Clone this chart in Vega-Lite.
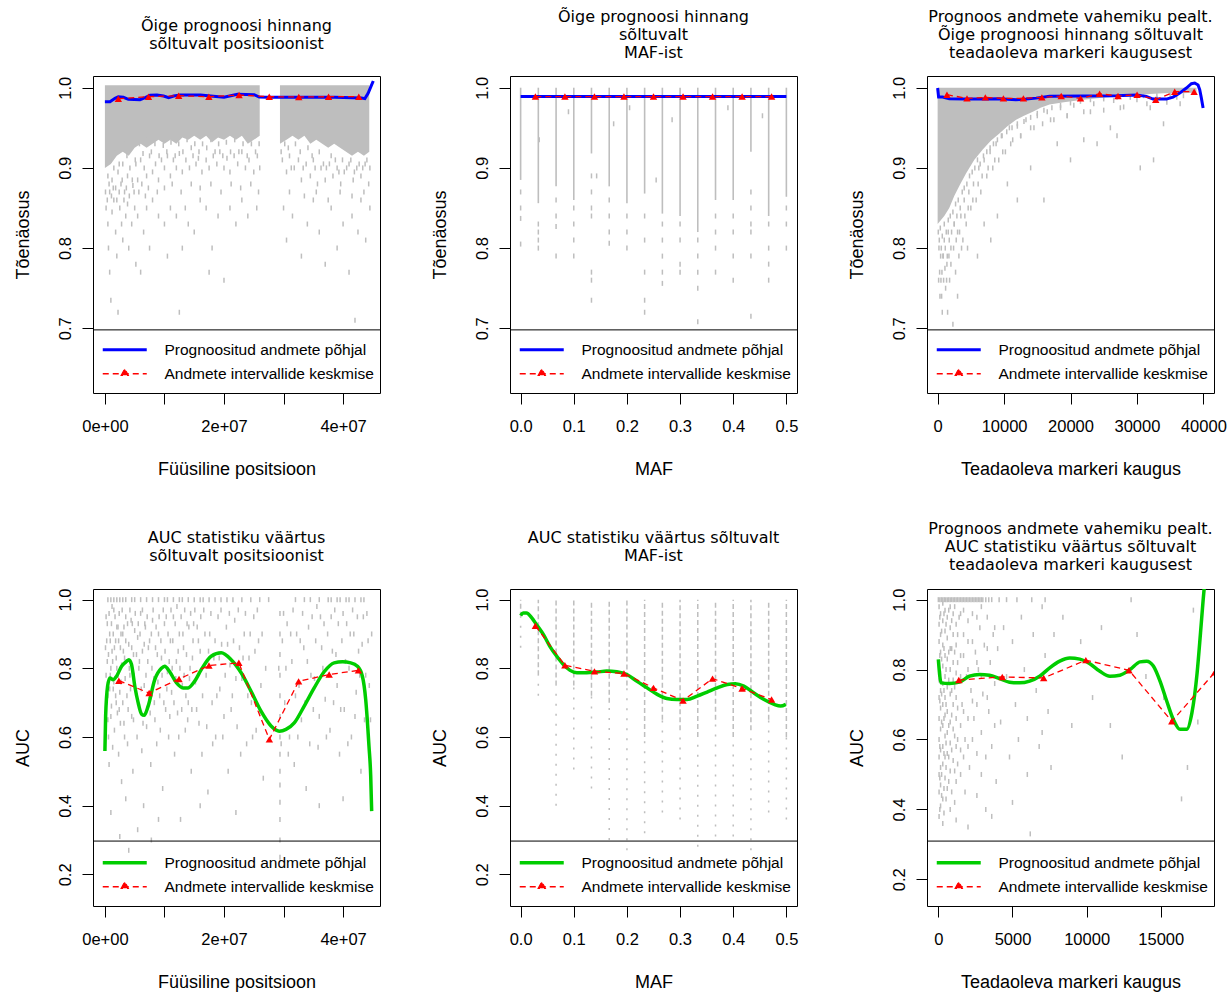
{
  "$schema": "https://vega.github.io/schema/vega-lite/v6.json",
  "background": "white",
  "padding": {"left": 13, "top": 8, "right": 5, "bottom": 2},
  "bounds": "flush",
  "columns": 3,
  "spacing": {"column": 130, "row": 196},
  "resolve": {"scale": {"color": "independent"}, "legend": {"color": "independent"}},
  "config": {
    "view": {"stroke": "black", "strokeWidth": 1},
    "axis": {"domain": false, "grid": false, "ticks": true, "tickColor": "black", "tickSize": 11, "tickWidth": 1,
             "labelFont": "Liberation Sans", "labelFontSize": 16.5, "labelColor": "black",
             "titleFont": "Liberation Sans", "titleFontSize": 18, "titleFontWeight": "normal", "titleColor": "black",
             "labelOverlap": false, "labelBound": false, "labelFlush": false},
    "axisX": {"labelPadding": 14, "labelAngle": 0, "titleY": 81, "titleBaseline": "alphabetic"},
    "axisY": {"labelPadding": 12, "labelAngle": -90, "labelAlign": "center", "labelBaseline": "alphabetic",
              "titleX": -65, "titleAngle": -90, "titleBaseline": "alphabetic"},
    "title": {"font": "DejaVu Sans", "fontSize": 16, "fontWeight": "normal", "color": "black", "lineHeight": 18, "frame": "group", "anchor": "middle"},
    "legend": {"orient": "none", "legendX": 7, "legendY": 266, "padding": 0, "labelFont": "Liberation Sans", "labelFontSize": 15.5,
               "labelColor": "black", "labelOffset": 49, "rowPadding": 7, "symbolSize": 100, "labelLimit": 400}
  },
  "datasets": {
    "p1band": [
      {"x":0,"y":0.90,"seg":"a"},{"x":0.1e7,"y":0.905,"seg":"a"},{"x":0.2e7,"y":0.915,"seg":"a"},{"x":0.3e7,"y":0.92,"seg":"a"},{"x":0.4e7,"y":0.915,"seg":"a"},{"x":0.5e7,"y":0.925,"seg":"a"},{"x":0.6e7,"y":0.93,"seg":"a"},{"x":0.7e7,"y":0.925,"seg":"a"},{"x":0.8e7,"y":0.93,"seg":"a"},{"x":0.9e7,"y":0.935,"seg":"a"},{"x":1.0e7,"y":0.93,"seg":"a"},{"x":1.1e7,"y":0.935,"seg":"a"},{"x":1.2e7,"y":0.93,"seg":"a"},{"x":1.3e7,"y":0.938,"seg":"a"},{"x":1.4e7,"y":0.935,"seg":"a"},{"x":1.5e7,"y":0.94,"seg":"a"},{"x":1.6e7,"y":0.935,"seg":"a"},{"x":1.7e7,"y":0.94,"seg":"a"},{"x":1.8e7,"y":0.932,"seg":"a"},{"x":1.9e7,"y":0.938,"seg":"a"},{"x":2.0e7,"y":0.935,"seg":"a"},{"x":2.1e7,"y":0.94,"seg":"a"},{"x":2.2e7,"y":0.935,"seg":"a"},{"x":2.3e7,"y":0.94,"seg":"a"},{"x":2.4e7,"y":0.93,"seg":"a"},{"x":2.5e7,"y":0.935,"seg":"a"},{"x":2.6e7,"y":0.94,"seg":"a"},
      {"x":2.94e7,"y":0.93,"seg":"b"},{"x":3.05e7,"y":0.935,"seg":"b"},{"x":3.15e7,"y":0.94,"seg":"b"},{"x":3.25e7,"y":0.935,"seg":"b"},{"x":3.35e7,"y":0.94,"seg":"b"},{"x":3.45e7,"y":0.93,"seg":"b"},{"x":3.55e7,"y":0.935,"seg":"b"},{"x":3.65e7,"y":0.93,"seg":"b"},{"x":3.75e7,"y":0.925,"seg":"b"},{"x":3.85e7,"y":0.93,"seg":"b"},{"x":3.95e7,"y":0.925,"seg":"b"},{"x":4.05e7,"y":0.92,"seg":"b"},{"x":4.15e7,"y":0.915,"seg":"b"},{"x":4.25e7,"y":0.92,"seg":"b"},{"x":4.35e7,"y":0.915,"seg":"b"},{"x":4.44e7,"y":0.92,"seg":"b"}
    ],
    "p1pts": [
      {"x":0.05e7,"y":0.89},{"x":0.08e7,"y":0.87},{"x":0.12e7,"y":0.885},{"x":0.15e7,"y":0.9},{"x":0.18e7,"y":0.875},{"x":0.22e7,"y":0.895},{"x":0.27e7,"y":0.88},{"x":0.3e7,"y":0.905},{"x":0.33e7,"y":0.87},{"x":0.38e7,"y":0.89},{"x":0.42e7,"y":0.9},{"x":0.47e7,"y":0.878},{"x":0.52e7,"y":0.905},{"x":0.55e7,"y":0.885},{"x":0.6e7,"y":0.91},{"x":0.66e7,"y":0.9},{"x":0.7e7,"y":0.89},{"x":0.75e7,"y":0.915},{"x":0.8e7,"y":0.895},{"x":0.85e7,"y":0.905},{"x":0.9e7,"y":0.885},{"x":0.95e7,"y":0.91},{"x":1.0e7,"y":0.9},{"x":1.05e7,"y":0.915},{"x":1.1e7,"y":0.89},{"x":1.15e7,"y":0.91},{"x":1.2e7,"y":0.9},{"x":1.25e7,"y":0.918},{"x":1.3e7,"y":0.895},{"x":1.36e7,"y":0.91},{"x":1.42e7,"y":0.9},{"x":1.48e7,"y":0.915},{"x":1.53e7,"y":0.905},{"x":1.58e7,"y":0.92},{"x":1.63e7,"y":0.895},{"x":1.7e7,"y":0.91},{"x":1.75e7,"y":0.9},{"x":1.82e7,"y":0.915},{"x":1.88e7,"y":0.905},{"x":1.93e7,"y":0.92},{"x":2.0e7,"y":0.9},{"x":2.05e7,"y":0.912},{"x":2.1e7,"y":0.895},{"x":2.17e7,"y":0.915},{"x":2.23e7,"y":0.905},{"x":2.3e7,"y":0.92},{"x":2.36e7,"y":0.9},{"x":2.42e7,"y":0.91},{"x":2.5e7,"y":0.895},{"x":2.56e7,"y":0.915},{"x":2.6e7,"y":0.9},
      {"x":2.98e7,"y":0.91},{"x":3.05e7,"y":0.895},{"x":3.1e7,"y":0.915},{"x":3.18e7,"y":0.9},{"x":3.25e7,"y":0.91},{"x":3.3e7,"y":0.885},{"x":3.38e7,"y":0.905},{"x":3.45e7,"y":0.89},{"x":3.5e7,"y":0.91},{"x":3.57e7,"y":0.88},{"x":3.63e7,"y":0.9},{"x":3.7e7,"y":0.885},{"x":3.77e7,"y":0.905},{"x":3.83e7,"y":0.89},{"x":3.9e7,"y":0.9},{"x":3.96e7,"y":0.88},{"x":4.02e7,"y":0.895},{"x":4.1e7,"y":0.905},{"x":4.17e7,"y":0.885},{"x":4.23e7,"y":0.9},{"x":4.3e7,"y":0.89},{"x":4.37e7,"y":0.905},{"x":4.43e7,"y":0.88},
      {"x":0.02e7,"y":0.85},{"x":0.05e7,"y":0.83},{"x":0.06e7,"y":0.8},{"x":0.08e7,"y":0.77},{"x":0.1e7,"y":0.735},{"x":0.12e7,"y":0.845},{"x":0.15e7,"y":0.86},{"x":0.18e7,"y":0.82},{"x":0.2e7,"y":0.79},{"x":0.22e7,"y":0.72},{"x":0.25e7,"y":0.85},{"x":0.28e7,"y":0.83},{"x":0.3e7,"y":0.81},{"x":0.35e7,"y":0.84},{"x":0.38e7,"y":0.855},{"x":0.4e7,"y":0.8},{"x":0.45e7,"y":0.83},{"x":0.5e7,"y":0.85},{"x":0.52e7,"y":0.78},{"x":0.55e7,"y":0.84},{"x":0.6e7,"y":0.77},{"x":0.65e7,"y":0.82},{"x":0.7e7,"y":0.85},{"x":0.75e7,"y":0.8},{"x":0.8e7,"y":0.86},{"x":0.9e7,"y":0.84},{"x":1.0e7,"y":0.83},{"x":1.05e7,"y":0.79},{"x":1.1e7,"y":0.85},{"x":1.2e7,"y":0.84},{"x":1.25e7,"y":0.72},{"x":1.3e7,"y":0.8},{"x":1.35e7,"y":0.85},{"x":1.4e7,"y":0.83},{"x":1.5e7,"y":0.82},{"x":1.6e7,"y":0.86},{"x":1.7e7,"y":0.85},{"x":1.75e7,"y":0.77},{"x":1.8e7,"y":0.8},{"x":1.9e7,"y":0.84},{"x":2.0e7,"y":0.76},{"x":2.1e7,"y":0.85},{"x":2.2e7,"y":0.83},{"x":2.3e7,"y":0.86},{"x":2.4e7,"y":0.84},{"x":2.55e7,"y":0.85},
      {"x":3.0e7,"y":0.85},{"x":3.05e7,"y":0.81},{"x":3.15e7,"y":0.84},{"x":3.3e7,"y":0.79},{"x":3.4e7,"y":0.83},{"x":3.5e7,"y":0.86},{"x":3.6e7,"y":0.82},{"x":3.7e7,"y":0.78},{"x":3.8e7,"y":0.85},{"x":3.9e7,"y":0.8},{"x":4.0e7,"y":0.83},{"x":4.1e7,"y":0.77},{"x":4.15e7,"y":0.84},{"x":4.2e7,"y":0.71},{"x":4.25e7,"y":0.82},{"x":4.3e7,"y":0.86},{"x":4.38e7,"y":0.81},{"x":4.45e7,"y":0.85},
      {"x":0.03e7,"y":0.92},{"x":0.1e7,"y":0.91},{"x":0.17e7,"y":0.925},{"x":0.24e7,"y":0.905},{"x":0.31e7,"y":0.93},{"x":0.37e7,"y":0.915},{"x":0.44e7,"y":0.925},{"x":0.51e7,"y":0.91},{"x":0.58e7,"y":0.93},{"x":0.64e7,"y":0.918},{"x":0.71e7,"y":0.935},{"x":0.78e7,"y":0.92},{"x":0.84e7,"y":0.93},{"x":0.91e7,"y":0.915},{"x":0.98e7,"y":0.928},{"x":1.04e7,"y":0.92},{"x":1.11e7,"y":0.932},{"x":1.18e7,"y":0.915},{"x":1.24e7,"y":0.93},{"x":1.31e7,"y":0.92},{"x":1.38e7,"y":0.935},{"x":1.45e7,"y":0.925},{"x":1.51e7,"y":0.93},{"x":1.57e7,"y":0.912},{"x":1.64e7,"y":0.93},{"x":1.71e7,"y":0.925},{"x":1.78e7,"y":0.935},{"x":1.85e7,"y":0.92},{"x":1.91e7,"y":0.93},{"x":1.98e7,"y":0.915},{"x":2.04e7,"y":0.932},{"x":2.11e7,"y":0.92},{"x":2.18e7,"y":0.935},{"x":2.25e7,"y":0.92},{"x":2.32e7,"y":0.93},{"x":2.39e7,"y":0.915},{"x":2.46e7,"y":0.93},{"x":2.53e7,"y":0.92},{"x":2.59e7,"y":0.93},
      {"x":0.01e7,"y":0.87},{"x":0.04e7,"y":0.86},{"x":0.07e7,"y":0.88},{"x":0.11e7,"y":0.865},{"x":0.14e7,"y":0.875},{"x":0.2e7,"y":0.86},{"x":0.24e7,"y":0.87},{"x":0.29e7,"y":0.885},{"x":0.32e7,"y":0.86},{"x":0.36e7,"y":0.875},{"x":0.41e7,"y":0.865},{"x":0.46e7,"y":0.885},{"x":0.49e7,"y":0.87},{"x":0.57e7,"y":0.87},{"x":0.62e7,"y":0.88},{"x":0.68e7,"y":0.865},{"x":0.73e7,"y":0.875},{"x":0.88e7,"y":0.87},{"x":1.0e7,"y":0.875},{"x":1.13e7,"y":0.88},{"x":1.28e7,"y":0.87},{"x":1.45e7,"y":0.88},{"x":1.6e7,"y":0.875},{"x":1.78e7,"y":0.88},{"x":1.95e7,"y":0.87},{"x":2.12e7,"y":0.88},{"x":2.28e7,"y":0.875},{"x":2.45e7,"y":0.88},{"x":2.58e7,"y":0.87},
      {"x":2.96e7,"y":0.92},{"x":3.02e7,"y":0.93},{"x":3.08e7,"y":0.925},{"x":3.13e7,"y":0.9},{"x":3.2e7,"y":0.93},{"x":3.28e7,"y":0.92},{"x":3.33e7,"y":0.9},{"x":3.41e7,"y":0.925},{"x":3.48e7,"y":0.915},{"x":3.53e7,"y":0.9},{"x":3.6e7,"y":0.92},{"x":3.67e7,"y":0.905},{"x":3.72e7,"y":0.9},{"x":3.8e7,"y":0.915},{"x":3.87e7,"y":0.91},{"x":3.93e7,"y":0.895},{"x":3.99e7,"y":0.91},{"x":4.06e7,"y":0.9},{"x":4.13e7,"y":0.91},{"x":4.19e7,"y":0.895},{"x":4.27e7,"y":0.905},{"x":4.33e7,"y":0.9},{"x":4.4e7,"y":0.91},{"x":4.45e7,"y":0.9},{"x":3.1e7,"y":0.87},{"x":3.35e7,"y":0.865},{"x":3.55e7,"y":0.87},{"x":3.75e7,"y":0.86},{"x":3.95e7,"y":0.87},{"x":4.15e7,"y":0.865},{"x":4.35e7,"y":0.87}
    ],
    "p1fit": [
      {"x":0,"y":0.9825},{"x":0.085e7,"y":0.9825},{"x":0.17e7,"y":0.9868},{"x":0.225e7,"y":0.9888},{"x":0.31e7,"y":0.988},{"x":0.394e7,"y":0.9855},{"x":0.59e7,"y":0.985},{"x":0.676e7,"y":0.9876},{"x":0.76e7,"y":0.9905},{"x":0.874e7,"y":0.991},{"x":0.986e7,"y":0.9897},{"x":1.07e7,"y":0.9876},{"x":1.155e7,"y":0.9897},{"x":1.268e7,"y":0.991},{"x":1.606e7,"y":0.991},{"x":1.775e7,"y":0.9897},{"x":2.0e7,"y":0.988},{"x":2.113e7,"y":0.99},{"x":2.226e7,"y":0.9917},{"x":2.507e7,"y":0.9913},{"x":2.592e7,"y":0.9884},{"x":2.733e7,"y":0.988},{"x":3.86e7,"y":0.988},{"x":4.31e7,"y":0.9872},{"x":4.366e7,"y":0.9864},{"x":4.42e7,"y":0.993},{"x":4.467e7,"y":1.0013},{"x":4.507e7,"y":1.0084}
    ],
    "p1bin": [
      {"x":0.225e7,"y":0.9863},{"x":0.732e7,"y":0.9888},{"x":1.239e7,"y":0.99},{"x":1.746e7,"y":0.9888},{"x":2.253e7,"y":0.9909},{"x":2.76e7,"y":0.9888},{"x":3.256e7,"y":0.9884},{"x":3.756e7,"y":0.9888},{"x":4.264e7,"y":0.9888}
    ],
    "p2col": [
      {"x":0,"y":0.885},{"x":0.0333,"y":0.856},{"x":0.0667,"y":0.877},{"x":0.1,"y":0.86},{"x":0.1333,"y":0.918},{"x":0.1667,"y":0.877},{"x":0.2,"y":0.856},{"x":0.2333,"y":0.868},{"x":0.2667,"y":0.843},{"x":0.3,"y":0.84},{"x":0.3333,"y":0.82},{"x":0.3667,"y":0.86},{"x":0.4,"y":0.86},{"x":0.4333,"y":0.92},{"x":0.4667,"y":0.84},{"x":0.5,"y":0.864}
    ],
    "p2pts": [
      {"x":0,"y":0.87},{"x":0,"y":0.85},{"x":0,"y":0.837},{"x":0,"y":0.805},
      {"x":0.0333,"y":0.83},{"x":0.0333,"y":0.82},{"x":0.0333,"y":0.81},{"x":0.0333,"y":0.8},
      {"x":0.0667,"y":0.86},{"x":0.0667,"y":0.84},{"x":0.0667,"y":0.827},{"x":0.0667,"y":0.79},
      {"x":0.1,"y":0.85},{"x":0.1,"y":0.83},{"x":0.1,"y":0.81},{"x":0.1,"y":0.79},
      {"x":0.1333,"y":0.89},{"x":0.1333,"y":0.87},{"x":0.1333,"y":0.85},{"x":0.1333,"y":0.84},{"x":0.1333,"y":0.77},{"x":0.1333,"y":0.76},{"x":0.1333,"y":0.735},
      {"x":0.1667,"y":0.86},{"x":0.1667,"y":0.84},{"x":0.1667,"y":0.82},{"x":0.1667,"y":0.806},
      {"x":0.2,"y":0.84},{"x":0.2,"y":0.82},{"x":0.2,"y":0.8},
      {"x":0.2333,"y":0.84},{"x":0.2333,"y":0.81},{"x":0.2333,"y":0.77},{"x":0.2333,"y":0.735},{"x":0.2333,"y":0.72},
      {"x":0.2667,"y":0.83},{"x":0.2667,"y":0.81},{"x":0.2667,"y":0.79},{"x":0.2667,"y":0.77},{"x":0.2667,"y":0.756},
      {"x":0.3,"y":0.83},{"x":0.3,"y":0.81},{"x":0.3,"y":0.78},{"x":0.3,"y":0.77},
      {"x":0.3333,"y":0.81},{"x":0.3333,"y":0.79},{"x":0.3333,"y":0.77},{"x":0.3333,"y":0.75},{"x":0.3333,"y":0.708},
      {"x":0.3667,"y":0.84},{"x":0.3667,"y":0.82},{"x":0.3667,"y":0.8},{"x":0.3667,"y":0.77},
      {"x":0.4,"y":0.84},{"x":0.4,"y":0.82},{"x":0.4,"y":0.79},{"x":0.4,"y":0.76},
      {"x":0.4333,"y":0.87},{"x":0.4333,"y":0.85},{"x":0.4333,"y":0.83},{"x":0.4333,"y":0.82},{"x":0.4333,"y":0.79},{"x":0.4333,"y":0.715},
      {"x":0.4667,"y":0.83},{"x":0.4667,"y":0.8},{"x":0.4667,"y":0.78},{"x":0.4667,"y":0.76},
      {"x":0.5,"y":0.85},{"x":0.5,"y":0.83},{"x":0.5,"y":0.8},
      {"x":0.035,"y":0.935},{"x":0.09,"y":0.97},{"x":0.175,"y":0.955},{"x":0.205,"y":0.975},{"x":0.255,"y":0.885},{"x":0.285,"y":0.96},{"x":0.39,"y":0.975},{"x":0.455,"y":0.965},{"x":0.143,"y":0.89}
    ],
    "p2fit": [
      {"x":0.0,"y":0.989},{"x":0.1,"y":0.989},{"x":0.2,"y":0.989},{"x":0.3,"y":0.989},{"x":0.4,"y":0.989},{"x":0.5,"y":0.989}
    ],
    "p2bin": [
      {"x":0.0278,"y":0.989},{"x":0.0833,"y":0.989},{"x":0.1389,"y":0.989},{"x":0.1944,"y":0.989},{"x":0.25,"y":0.989},{"x":0.3056,"y":0.989},{"x":0.3611,"y":0.989},{"x":0.4167,"y":0.989},{"x":0.4722,"y":0.989}
    ],
    "p3band": [
      {"x":0,"y":0.83},{"x":500,"y":0.835},{"x":1000,"y":0.84},{"x":1750,"y":0.85},{"x":2500,"y":0.865},{"x":3300,"y":0.878},{"x":4270,"y":0.893},{"x":5500,"y":0.91},{"x":6790,"y":0.923},{"x":8000,"y":0.934},{"x":9290,"y":0.943},{"x":10500,"y":0.952},{"x":11810,"y":0.96},{"x":13000,"y":0.965},{"x":14330,"y":0.97},{"x":15500,"y":0.975},{"x":16840,"y":0.979},{"x":19000,"y":0.982},{"x":21870,"y":0.985},{"x":24000,"y":0.987},{"x":26900,"y":0.989},{"x":29000,"y":0.99},{"x":31920,"y":0.992},{"x":34000,"y":0.993},{"x":36950,"y":0.993},{"x":38960,"y":0.994}
    ],
    "p3pts": [
      {"x":200,"y":0.8},{"x":300,"y":0.77},{"x":500,"y":0.76},{"x":700,"y":0.72},{"x":800,"y":0.79},{"x":1000,"y":0.81},{"x":1200,"y":0.75},{"x":1400,"y":0.78},{"x":1600,"y":0.82},{"x":1800,"y":0.76},{"x":2000,"y":0.8},{"x":2300,"y":0.705},{"x":2500,"y":0.83},{"x":2700,"y":0.77},{"x":3000,"y":0.82},{"x":3200,"y":0.79},{"x":3500,"y":0.84},{"x":3800,"y":0.81},{"x":4000,"y":0.86},{"x":4300,"y":0.83},{"x":4700,"y":0.87},{"x":5000,"y":0.85},{"x":5400,"y":0.88},{"x":5800,"y":0.86},{"x":6200,"y":0.9},{"x":6500,"y":0.87},{"x":7000,"y":0.91},{"x":7400,"y":0.89},{"x":7900,"y":0.92},{"x":8300,"y":0.9},{"x":8800,"y":0.93},{"x":9200,"y":0.91},{"x":9600,"y":0.94},{"x":10200,"y":0.92},{"x":10800,"y":0.95},{"x":11300,"y":0.935},{"x":12000,"y":0.955},{"x":12500,"y":0.94},{"x":13300,"y":0.96},{"x":14000,"y":0.95},{"x":15000,"y":0.965},{"x":15800,"y":0.955},{"x":16500,"y":0.97},{"x":17500,"y":0.96},{"x":18500,"y":0.975},{"x":19500,"y":0.965},{"x":20500,"y":0.978},{"x":22000,"y":0.97},{"x":23500,"y":0.98},{"x":25000,"y":0.972},{"x":26500,"y":0.984},{"x":28000,"y":0.976},{"x":30000,"y":0.985},{"x":31500,"y":0.98},{"x":33000,"y":0.987},{"x":34500,"y":0.982},{"x":36000,"y":0.988},
      {"x":8000,"y":0.81},{"x":6000,"y":0.79},{"x":12000,"y":0.86},{"x":16000,"y":0.86},{"x":20000,"y":0.91},{"x":24000,"y":0.93},{"x":27000,"y":0.94},{"x":30500,"y":0.9},{"x":32500,"y":0.91},{"x":26000,"y":0.95},{"x":22000,"y":0.935},{"x":18000,"y":0.93},{"x":34000,"y":0.955},{"x":14000,"y":0.9},{"x":10500,"y":0.88},{"x":9000,"y":0.84},{"x":7000,"y":0.83},{"x":4500,"y":0.8},{"x":3000,"y":0.74},{"x":1500,"y":0.72},{"x":600,"y":0.74},
      {"x":100,"y":0.82},{"x":250,"y":0.81},{"x":400,"y":0.825},{"x":550,"y":0.8},{"x":700,"y":0.815},{"x":850,"y":0.79},{"x":1000,"y":0.83},{"x":1150,"y":0.8},{"x":1300,"y":0.82},{"x":1450,"y":0.79},{"x":1600,"y":0.835},{"x":1750,"y":0.81},{"x":1900,"y":0.84},{"x":2100,"y":0.82},{"x":2300,"y":0.845},{"x":2500,"y":0.83},{"x":2700,"y":0.855},{"x":2900,"y":0.84},{"x":3100,"y":0.86},{"x":3400,"y":0.85},{"x":3700,"y":0.87},{"x":4000,"y":0.875},{"x":4400,"y":0.88},{"x":4800,"y":0.89},{"x":5200,"y":0.895},{"x":5600,"y":0.9},{"x":6000,"y":0.91},{"x":6400,"y":0.905},{"x":6900,"y":0.915},{"x":7400,"y":0.92},{"x":7900,"y":0.925},{"x":8400,"y":0.93},{"x":9000,"y":0.935},{"x":9700,"y":0.94},{"x":10400,"y":0.945},{"x":11200,"y":0.95},{"x":12000,"y":0.952},{"x":13000,"y":0.958},{"x":14000,"y":0.963},{"x":15000,"y":0.968},{"x":16000,"y":0.972},{"x":17200,"y":0.975},{"x":18500,"y":0.978},{"x":20000,"y":0.981},{"x":21500,"y":0.983},{"x":23000,"y":0.985},{"x":25000,"y":0.986},{"x":27000,"y":0.988},{"x":29000,"y":0.988},{"x":31000,"y":0.99},{"x":33000,"y":0.99},{"x":35000,"y":0.991},{"x":37000,"y":0.99},
      {"x":150,"y":0.76},{"x":350,"y":0.74},{"x":450,"y":0.79},{"x":650,"y":0.77},{"x":900,"y":0.76},{"x":1100,"y":0.775},{"x":1350,"y":0.76},{"x":1700,"y":0.79},{"x":2000,"y":0.78},{"x":2400,"y":0.8},{"x":2800,"y":0.81},{"x":3300,"y":0.82},{"x":3600,"y":0.8},{"x":4100,"y":0.84},{"x":4600,"y":0.85},{"x":5300,"y":0.86},{"x":6100,"y":0.88},{"x":6700,"y":0.89},{"x":7600,"y":0.9},{"x":8600,"y":0.91},{"x":9800,"y":0.92},{"x":11000,"y":0.93},{"x":12500,"y":0.94},{"x":14500,"y":0.95},{"x":17000,"y":0.96},{"x":19500,"y":0.965},{"x":23000,"y":0.97},{"x":27500,"y":0.975},{"x":32000,"y":0.975},{"x":36500,"y":0.98}
    ],
    "p3fit": [
      {"x":0,"y":0.9996},{"x":146,"y":0.9883},{"x":750,"y":0.9883},{"x":1750,"y":0.9863},{"x":4270,"y":0.9858},{"x":6790,"y":0.9858},{"x":9290,"y":0.9863},{"x":11810,"y":0.985},{"x":13320,"y":0.9858},{"x":14820,"y":0.987},{"x":16840,"y":0.9892},{"x":21870,"y":0.9896},{"x":26900,"y":0.99},{"x":29920,"y":0.9908},{"x":31420,"y":0.9892},{"x":32420,"y":0.9858},{"x":34430,"y":0.9858},{"x":35440,"y":0.9883},{"x":36440,"y":0.9933},{"x":37440,"y":0.9996},{"x":38200,"y":1.005},{"x":38700,"y":1.0058},{"x":39200,"y":1.0033},{"x":39450,"y":0.9975},{"x":39700,"y":0.987},{"x":39960,"y":0.9746}
    ],
    "p3bin": [
      {"x":1403,"y":0.9913},{"x":4420,"y":0.9867},{"x":7180,"y":0.9879},{"x":9900,"y":0.9867},{"x":12910,"y":0.9867},{"x":15690,"y":0.9879},{"x":18600,"y":0.9896},{"x":21510,"y":0.9867},{"x":24380,"y":0.9925},{"x":27150,"y":0.9896},{"x":30020,"y":0.9913},{"x":32830,"y":0.985},{"x":35690,"y":0.995},{"x":38610,"y":0.995}
    ],
    "p4pts": [
      {"x":0.05e7,"y":1},{"x":0.1e7,"y":1},{"x":0.15e7,"y":1},{"x":0.2e7,"y":1},{"x":0.25e7,"y":1},{"x":0.3e7,"y":1},{"x":0.35e7,"y":1},{"x":0.45e7,"y":1},{"x":0.5e7,"y":1},{"x":0.6e7,"y":1},{"x":0.7e7,"y":1},{"x":0.8e7,"y":1},{"x":0.9e7,"y":1},{"x":1.0e7,"y":1},{"x":1.05e7,"y":1},{"x":1.15e7,"y":1},{"x":1.25e7,"y":1},{"x":1.3e7,"y":1},{"x":1.4e7,"y":1},{"x":1.5e7,"y":1},{"x":1.6e7,"y":1},{"x":1.65e7,"y":1},{"x":1.75e7,"y":1},{"x":1.85e7,"y":1},{"x":1.95e7,"y":1},{"x":2.05e7,"y":1},{"x":2.15e7,"y":1},{"x":2.3e7,"y":1},{"x":2.45e7,"y":1},{"x":2.6e7,"y":1},{"x":2.75e7,"y":1},{"x":3.2e7,"y":1},{"x":3.35e7,"y":1},{"x":3.45e7,"y":1},{"x":3.6e7,"y":1},{"x":3.75e7,"y":1},{"x":3.8e7,"y":1},{"x":3.9e7,"y":1},{"x":3.95e7,"y":1},{"x":4.05e7,"y":1},{"x":4.1e7,"y":1},{"x":4.2e7,"y":1},{"x":4.3e7,"y":1},{"x":4.35e7,"y":1},
      {"x":0.02e7,"y":0.95},{"x":0.03e7,"y":0.88},{"x":0.04e7,"y":0.82},{"x":0.05e7,"y":0.72},{"x":0.06e7,"y":0.6},{"x":0.07e7,"y":0.52},{"x":0.08e7,"y":0.9},{"x":0.09e7,"y":0.78},{"x":0.1e7,"y":0.66},{"x":0.11e7,"y":0.93},{"x":0.12e7,"y":0.85},{"x":0.13e7,"y":0.57},{"x":0.14e7,"y":0.74},{"x":0.15e7,"y":0.97},{"x":0.16e7,"y":0.62},{"x":0.18e7,"y":0.88},{"x":0.19e7,"y":0.7},{"x":0.2e7,"y":0.8},{"x":0.22e7,"y":0.92},{"x":0.23e7,"y":0.55},{"x":0.24e7,"y":0.68},{"x":0.26e7,"y":0.86},{"x":0.27e7,"y":0.76},{"x":0.28e7,"y":0.47},{"x":0.3e7,"y":0.9},{"x":0.32e7,"y":0.64},{"x":0.33e7,"y":0.83},{"x":0.35e7,"y":0.95},{"x":0.37e7,"y":0.72},{"x":0.38e7,"y":0.58},{"x":0.4e7,"y":0.87},{"x":0.42e7,"y":0.78},{"x":0.44e7,"y":0.94},{"x":0.45e7,"y":0.66},{"x":0.47e7,"y":0.5},{"x":0.48e7,"y":0.84},{"x":0.5e7,"y":0.91},{"x":0.52e7,"y":0.73},{"x":0.54e7,"y":0.6},{"x":0.55e7,"y":0.89},{"x":0.57e7,"y":0.8},{"x":0.58e7,"y":0.69},{"x":0.6e7,"y":0.96},{"x":0.62e7,"y":0.56},{"x":0.63e7,"y":0.85},{"x":0.65e7,"y":0.4},{"x":0.66e7,"y":0.75},{"x":0.68e7,"y":0.92},{"x":0.7e7,"y":0.63},{"x":0.72e7,"y":0.82},{"x":0.74e7,"y":0.71},{"x":0.75e7,"y":0.88},{"x":0.77e7,"y":0.52},{"x":0.78e7,"y":0.3},{"x":0.8e7,"y":0.94},{"x":0.82e7,"y":0.77},{"x":0.84e7,"y":0.65},{"x":0.85e7,"y":0.86},{"x":0.87e7,"y":0.58},{"x":0.9e7,"y":0.9},{"x":0.92e7,"y":0.72},{"x":0.95e7,"y":0.83},{"x":0.97e7,"y":0.45},{"x":1.0e7,"y":0.93},{"x":1.02e7,"y":0.68},{"x":1.05e7,"y":0.79},{"x":1.07e7,"y":0.6},{"x":1.1e7,"y":0.88},{"x":1.12e7,"y":0.73},{"x":1.15e7,"y":0.95},{"x":1.17e7,"y":0.55},{"x":1.2e7,"y":0.82},{"x":1.22e7,"y":0.67},{"x":1.25e7,"y":0.9},{"x":1.27e7,"y":0.36},{"x":1.3e7,"y":0.75},{"x":1.32e7,"y":0.86},{"x":1.35e7,"y":0.62},{"x":1.38e7,"y":0.93},{"x":1.4e7,"y":0.7},{"x":1.43e7,"y":0.8},{"x":1.45e7,"y":0.5},{"x":1.48e7,"y":0.88},
      {"x":1.52e7,"y":0.76},{"x":1.55e7,"y":0.92},{"x":1.58e7,"y":0.64},{"x":1.6e7,"y":0.85},{"x":1.63e7,"y":0.55},{"x":1.66e7,"y":0.97},{"x":1.7e7,"y":0.78},{"x":1.73e7,"y":0.44},{"x":1.76e7,"y":0.9},{"x":1.8e7,"y":0.7},{"x":1.83e7,"y":0.83},{"x":1.86e7,"y":0.6},{"x":1.9e7,"y":0.95},{"x":1.93e7,"y":0.74},{"x":1.96e7,"y":0.87},{"x":2.0e7,"y":0.66},{"x":2.04e7,"y":0.92},{"x":2.07e7,"y":0.5},{"x":2.1e7,"y":0.81},{"x":2.14e7,"y":0.72},{"x":2.18e7,"y":0.94},{"x":2.22e7,"y":0.63},{"x":2.26e7,"y":0.86},{"x":2.3e7,"y":0.77},{"x":2.34e7,"y":0.9},{"x":2.38e7,"y":0.58},{"x":2.42e7,"y":0.83},{"x":2.46e7,"y":0.7},{"x":2.5e7,"y":0.95},{"x":2.54e7,"y":0.62},{"x":2.58e7,"y":0.88},{"x":2.62e7,"y":0.75},{"x":2.66e7,"y":0.48},
      {"x":2.94e7,"y":0.96},{"x":2.94e7,"y":0.9},{"x":2.94e7,"y":0.84},{"x":2.94e7,"y":0.78},{"x":2.94e7,"y":0.72},{"x":2.94e7,"y":0.66},{"x":2.94e7,"y":0.6},{"x":2.94e7,"y":0.55},{"x":2.94e7,"y":0.5},{"x":2.94e7,"y":0.46},{"x":2.94e7,"y":0.41},{"x":2.94e7,"y":0.36},{"x":2.94e7,"y":0.3},{"x":2.94e7,"y":0.25},
      {"x":2.98e7,"y":0.88},{"x":3.02e7,"y":0.7},{"x":3.06e7,"y":0.93},{"x":3.1e7,"y":0.6},{"x":3.14e7,"y":0.82},{"x":3.18e7,"y":0.52},{"x":3.22e7,"y":0.9},{"x":3.26e7,"y":0.75},{"x":3.3e7,"y":0.65},{"x":3.34e7,"y":0.86},{"x":3.38e7,"y":0.45},{"x":3.42e7,"y":0.92},{"x":3.46e7,"y":0.78},{"x":3.5e7,"y":0.68},{"x":3.54e7,"y":0.88},{"x":3.58e7,"y":0.57},{"x":3.62e7,"y":0.95},{"x":3.66e7,"y":0.8},{"x":3.7e7,"y":0.71},{"x":3.74e7,"y":0.9},{"x":3.78e7,"y":0.62},{"x":3.82e7,"y":0.85},{"x":3.86e7,"y":0.97},{"x":3.9e7,"y":0.75},{"x":3.94e7,"y":0.55},{"x":3.98e7,"y":0.88},{"x":4.02e7,"y":0.68},{"x":4.06e7,"y":0.93},{"x":4.1e7,"y":0.8},{"x":4.14e7,"y":0.6},{"x":4.18e7,"y":0.9},{"x":4.22e7,"y":0.73},{"x":4.26e7,"y":0.85},{"x":4.3e7,"y":0.5},{"x":4.34e7,"y":0.95},{"x":4.38e7,"y":0.78},{"x":4.42e7,"y":0.88},{"x":4.46e7,"y":0.65},
      {"x":0.1e7,"y":0.38},{"x":0.35e7,"y":0.42},{"x":0.55e7,"y":0.33},{"x":0.9e7,"y":0.36},{"x":1.6e7,"y":0.4},{"x":2.2e7,"y":0.38},{"x":3.6e7,"y":0.4},{"x":4.0e7,"y":0.42},{"x":0.4e7,"y":0.27},{"x":0.25e7,"y":0.31},
      {"x":0.01e7,"y":0.86},{"x":0.02e7,"y":0.78},{"x":0.03e7,"y":0.7},{"x":0.04e7,"y":0.93},{"x":0.05e7,"y":0.65},{"x":0.06e7,"y":0.84},{"x":0.07e7,"y":0.96},{"x":0.08e7,"y":0.74},{"x":0.09e7,"y":0.88},{"x":0.1e7,"y":0.8},{"x":0.11e7,"y":0.69},{"x":0.12e7,"y":0.98},{"x":0.13e7,"y":0.82},{"x":0.14e7,"y":0.9},{"x":0.15e7,"y":0.76},{"x":0.16e7,"y":0.86},{"x":0.17e7,"y":0.95},{"x":0.18e7,"y":0.72},{"x":0.19e7,"y":0.83},{"x":0.2e7,"y":0.92},{"x":0.21e7,"y":0.67},{"x":0.22e7,"y":0.78},{"x":0.23e7,"y":0.88},{"x":0.24e7,"y":0.96},{"x":0.25e7,"y":0.73},{"x":0.26e7,"y":0.64},{"x":0.27e7,"y":0.9},{"x":0.28e7,"y":0.81},{"x":0.29e7,"y":0.97},{"x":0.3e7,"y":0.7},{"x":0.31e7,"y":0.85},{"x":0.32e7,"y":0.92},{"x":0.33e7,"y":0.6},{"x":0.34e7,"y":0.77},{"x":0.35e7,"y":0.88},{"x":0.36e7,"y":0.82},{"x":0.38e7,"y":0.93},{"x":0.39e7,"y":0.68},{"x":0.41e7,"y":0.8},{"x":0.42e7,"y":0.97},{"x":0.43e7,"y":0.74},{"x":0.45e7,"y":0.86},{"x":0.46e7,"y":0.93},{"x":0.48e7,"y":0.65},{"x":0.49e7,"y":0.78},{"x":0.51e7,"y":0.96},{"x":0.53e7,"y":0.84},{"x":0.55e7,"y":0.7},{"x":0.56e7,"y":0.93},{"x":0.58e7,"y":0.82},{"x":0.59e7,"y":0.9},{"x":0.61e7,"y":0.74},{"x":0.63e7,"y":0.97},{"x":0.64e7,"y":0.64},{"x":0.66e7,"y":0.87},{"x":0.67e7,"y":0.93},{"x":0.69e7,"y":0.78},{"x":0.71e7,"y":0.95},{"x":0.73e7,"y":0.86},{"x":0.76e7,"y":0.67},{"x":0.78e7,"y":0.9},{"x":0.79e7,"y":0.8},{"x":0.81e7,"y":0.97},{"x":0.83e7,"y":0.7},{"x":0.86e7,"y":0.92},{"x":0.88e7,"y":0.84},{"x":0.89e7,"y":0.76},{"x":0.91e7,"y":0.95},{"x":0.93e7,"y":0.62},{"x":0.94e7,"y":0.88},{"x":0.96e7,"y":0.78},{"x":0.98e7,"y":0.97},{"x":0.99e7,"y":0.7},{"x":1.01e7,"y":0.85},{"x":1.03e7,"y":0.95},{"x":1.04e7,"y":0.74},{"x":1.06e7,"y":0.9},{"x":1.08e7,"y":0.82},{"x":1.09e7,"y":0.66},{"x":1.11e7,"y":0.97},{"x":1.13e7,"y":0.8},{"x":1.14e7,"y":0.88},{"x":1.16e7,"y":0.7},{"x":1.18e7,"y":0.93},{"x":1.19e7,"y":0.77},{"x":1.21e7,"y":0.98},{"x":1.23e7,"y":0.85},{"x":1.24e7,"y":0.6},{"x":1.26e7,"y":0.8},{"x":1.28e7,"y":0.95},{"x":1.29e7,"y":0.68},{"x":1.31e7,"y":0.9},{"x":1.33e7,"y":0.78},{"x":1.34e7,"y":0.97},{"x":1.36e7,"y":0.72},{"x":1.37e7,"y":0.84},{"x":1.39e7,"y":0.65},{"x":1.41e7,"y":0.92},{"x":1.42e7,"y":0.77},{"x":1.44e7,"y":0.96},{"x":1.46e7,"y":0.68},{"x":1.47e7,"y":0.83},{"x":1.49e7,"y":0.93},
      {"x":1.51e7,"y":0.97},{"x":1.54e7,"y":0.68},{"x":1.57e7,"y":0.88},{"x":1.61e7,"y":0.95},{"x":1.64e7,"y":0.72},{"x":1.68e7,"y":0.9},{"x":1.71e7,"y":0.63},{"x":1.74e7,"y":0.85},{"x":1.78e7,"y":0.96},{"x":1.81e7,"y":0.58},{"x":1.85e7,"y":0.88},{"x":1.88e7,"y":0.72},{"x":1.92e7,"y":0.83},{"x":1.95e7,"y":0.97},{"x":1.98e7,"y":0.6},{"x":2.02e7,"y":0.78},{"x":2.06e7,"y":0.87},{"x":2.09e7,"y":0.96},{"x":2.12e7,"y":0.68},{"x":2.16e7,"y":0.88},{"x":2.2e7,"y":0.77},{"x":2.24e7,"y":0.97},{"x":2.28e7,"y":0.55},{"x":2.32e7,"y":0.83},{"x":2.36e7,"y":0.96},{"x":2.4e7,"y":0.72},{"x":2.44e7,"y":0.9},{"x":2.48e7,"y":0.6},{"x":2.52e7,"y":0.85},{"x":2.56e7,"y":0.97},{"x":2.6e7,"y":0.67},{"x":2.64e7,"y":0.9},{"x":2.7e7,"y":0.8},
      {"x":2.92e7,"y":0.8},{"x":2.96e7,"y":0.58},{"x":3.0e7,"y":0.96},{"x":3.04e7,"y":0.8},{"x":3.08e7,"y":0.55},{"x":3.12e7,"y":0.9},{"x":3.16e7,"y":0.97},{"x":3.2e7,"y":0.72},{"x":3.24e7,"y":0.6},{"x":3.28e7,"y":0.88},{"x":3.32e7,"y":0.96},{"x":3.36e7,"y":0.7},{"x":3.4e7,"y":0.82},{"x":3.44e7,"y":0.58},{"x":3.48e7,"y":0.95},{"x":3.52e7,"y":0.77},{"x":3.56e7,"y":0.98},{"x":3.6e7,"y":0.66},{"x":3.64e7,"y":0.86},{"x":3.68e7,"y":0.93},{"x":3.72e7,"y":0.6},{"x":3.76e7,"y":0.78},{"x":3.8e7,"y":0.95},{"x":3.84e7,"y":0.7},{"x":3.88e7,"y":0.84},{"x":3.92e7,"y":0.93},{"x":3.96e7,"y":0.68},{"x":4.0e7,"y":0.96},{"x":4.04e7,"y":0.82},{"x":4.08e7,"y":0.58},{"x":4.12e7,"y":0.9},{"x":4.16e7,"y":0.97},{"x":4.2e7,"y":0.66},{"x":4.24e7,"y":0.95},{"x":4.28e7,"y":0.78},{"x":4.32e7,"y":0.87},{"x":4.36e7,"y":0.65},{"x":4.4e7,"y":0.96},{"x":4.44e7,"y":0.75},{"x":4.48e7,"y":0.9}
    ],
    "p4fit": [
      {"x":0,"y":0.559},{"x":0.012e7,"y":0.66},{"x":0.045e7,"y":0.748},{"x":0.084e7,"y":0.772},{"x":0.14e7,"y":0.767},{"x":0.196e7,"y":0.777},{"x":0.28e7,"y":0.806},{"x":0.363e7,"y":0.82},{"x":0.402e7,"y":0.825},{"x":0.447e7,"y":0.811},{"x":0.502e7,"y":0.748},{"x":0.558e7,"y":0.70},{"x":0.614e7,"y":0.667},{"x":0.659e7,"y":0.663},{"x":0.726e7,"y":0.69},{"x":0.837e7,"y":0.767},{"x":0.949e7,"y":0.8},{"x":1.004e7,"y":0.806},{"x":1.088e7,"y":0.79},{"x":1.2e7,"y":0.758},{"x":1.312e7,"y":0.743},{"x":1.396e7,"y":0.743},{"x":1.506e7,"y":0.762},{"x":1.618e7,"y":0.796},{"x":1.785e7,"y":0.835},{"x":1.953e7,"y":0.845},{"x":2.12e7,"y":0.825},{"x":2.288e7,"y":0.787},{"x":2.455e7,"y":0.733},{"x":2.622e7,"y":0.675},{"x":2.79e7,"y":0.632},{"x":2.929e7,"y":0.617},{"x":3.041e7,"y":0.622},{"x":3.18e7,"y":0.641},{"x":3.347e7,"y":0.69},{"x":3.515e7,"y":0.743},{"x":3.682e7,"y":0.79},{"x":3.849e7,"y":0.816},{"x":3.99e7,"y":0.819},{"x":4.129e7,"y":0.816},{"x":4.241e7,"y":0.806},{"x":4.324e7,"y":0.777},{"x":4.38e7,"y":0.709},{"x":4.435e7,"y":0.573},{"x":4.464e7,"y":0.486},{"x":4.48e7,"y":0.384}
    ],
    "p4bin": [
      {"x":0.234e7,"y":0.764},{"x":0.743e7,"y":0.728},{"x":1.245e7,"y":0.769},{"x":1.747e7,"y":0.808},{"x":2.249e7,"y":0.816},{"x":2.762e7,"y":0.593},{"x":3.253e7,"y":0.762},{"x":3.766e7,"y":0.782},{"x":4.258e7,"y":0.794}
    ],
    "p5col": [
      {"x":0,"mid":0.95,"lo":0.86},{"x":0.0333,"mid":0.78,"lo":0.72},{"x":0.0667,"mid":0.75,"lo":0.4},{"x":0.1,"mid":0.75,"lo":0.505},{"x":0.1333,"mid":0.72,"lo":0.45},{"x":0.1667,"mid":0.7,"lo":0.3},{"x":0.2,"mid":0.75,"lo":0.27},{"x":0.2333,"mid":0.6,"lo":0.32},{"x":0.2667,"mid":0.65,"lo":0.38},{"x":0.3,"mid":0.62,"lo":0.36},{"x":0.3333,"mid":0.6,"lo":0.28},{"x":0.3667,"mid":0.65,"lo":0.31},{"x":0.4,"mid":0.6,"lo":0.31},{"x":0.4333,"mid":0.62,"lo":0.27},{"x":0.4667,"mid":0.65,"lo":0.38},{"x":0.5,"mid":0.6,"lo":0.36}
    ],
    "p5fit": [
      {"x":0.0,"y":0.954},{"x":0.005,"y":0.961},{"x":0.011,"y":0.961},{"x":0.021,"y":0.947},{"x":0.03,"y":0.927},{"x":0.043,"y":0.898},{"x":0.055,"y":0.864},{"x":0.068,"y":0.835},{"x":0.0805,"y":0.811},{"x":0.093,"y":0.794},{"x":0.106,"y":0.787},{"x":0.1245,"y":0.787},{"x":0.143,"y":0.789},{"x":0.162,"y":0.792},{"x":0.181,"y":0.79},{"x":0.2,"y":0.782},{"x":0.219,"y":0.762},{"x":0.238,"y":0.743},{"x":0.257,"y":0.724},{"x":0.275,"y":0.712},{"x":0.294,"y":0.709},{"x":0.313,"y":0.709},{"x":0.332,"y":0.719},{"x":0.351,"y":0.731},{"x":0.37,"y":0.743},{"x":0.389,"y":0.753},{"x":0.404,"y":0.755},{"x":0.42,"y":0.748},{"x":0.439,"y":0.728},{"x":0.458,"y":0.709},{"x":0.477,"y":0.695},{"x":0.489,"y":0.69},{"x":0.499,"y":0.695}
    ],
    "p5bin": [
      {"x":0.0278,"y":0.924},{"x":0.0833,"y":0.809},{"x":0.1389,"y":0.791},{"x":0.1944,"y":0.785},{"x":0.25,"y":0.743},{"x":0.3056,"y":0.706},{"x":0.3611,"y":0.77},{"x":0.4167,"y":0.741},{"x":0.4722,"y":0.709}
    ],
    "p6pts": [
      {"x":0,"y":1},{"x":100,"y":1},{"x":200,"y":1},{"x":300,"y":1},{"x":400,"y":1},{"x":500,"y":1},{"x":600,"y":1},{"x":700,"y":1},{"x":800,"y":1},{"x":900,"y":1},{"x":1000,"y":1},{"x":1100,"y":1},{"x":1200,"y":1},{"x":1300,"y":1},{"x":1400,"y":1},{"x":1500,"y":1},{"x":1600,"y":1},{"x":1700,"y":1},{"x":1800,"y":1},{"x":1900,"y":1},{"x":2000,"y":1},{"x":2100,"y":1},{"x":2200,"y":1},{"x":2300,"y":1},{"x":2400,"y":1},{"x":2500,"y":1},{"x":2600,"y":1},{"x":2700,"y":1},{"x":2800,"y":1},{"x":2900,"y":1},{"x":3000,"y":1},{"x":3200,"y":1},{"x":3400,"y":1},{"x":3600,"y":1},{"x":4100,"y":1},{"x":4600,"y":1},{"x":5300,"y":1},{"x":6300,"y":1},{"x":7200,"y":1},{"x":13000,"y":1},
      {"x":50,"y":0.98},{"x":50,"y":0.93},{"x":50,"y":0.88},{"x":50,"y":0.82},{"x":50,"y":0.77},{"x":50,"y":0.72},{"x":50,"y":0.66},{"x":50,"y":0.6},{"x":50,"y":0.55},{"x":50,"y":0.5},{"x":50,"y":0.45},{"x":50,"y":0.38},
      {"x":150,"y":0.96},{"x":150,"y":0.9},{"x":150,"y":0.85},{"x":150,"y":0.79},{"x":150,"y":0.74},{"x":150,"y":0.69},{"x":150,"y":0.63},{"x":150,"y":0.57},{"x":150,"y":0.52},{"x":150,"y":0.47},{"x":150,"y":0.41},
      {"x":300,"y":0.99},{"x":300,"y":0.94},{"x":300,"y":0.87},{"x":300,"y":0.81},{"x":300,"y":0.76},{"x":300,"y":0.7},{"x":300,"y":0.64},{"x":300,"y":0.58},{"x":300,"y":0.53},{"x":300,"y":0.43},{"x":300,"y":0.36},
      {"x":450,"y":0.97},{"x":450,"y":0.91},{"x":450,"y":0.84},{"x":450,"y":0.78},{"x":450,"y":0.72},{"x":450,"y":0.67},{"x":450,"y":0.61},{"x":450,"y":0.55},{"x":450,"y":0.49},
      {"x":600,"y":0.95},{"x":600,"y":0.89},{"x":600,"y":0.83},{"x":600,"y":0.75},{"x":600,"y":0.68},{"x":600,"y":0.62},{"x":600,"y":0.56},{"x":600,"y":0.46},
      {"x":800,"y":0.98},{"x":800,"y":0.92},{"x":800,"y":0.86},{"x":800,"y":0.8},{"x":800,"y":0.73},{"x":800,"y":0.65},{"x":800,"y":0.59},{"x":800,"y":0.51},{"x":800,"y":0.4},
      {"x":1000,"y":0.96},{"x":1000,"y":0.9},{"x":1000,"y":0.82},{"x":1000,"y":0.77},{"x":1000,"y":0.7},{"x":1000,"y":0.63},{"x":1000,"y":0.54},
      {"x":1200,"y":0.93},{"x":1200,"y":0.87},{"x":1200,"y":0.79},{"x":1200,"y":0.72},{"x":1200,"y":0.66},{"x":1200,"y":0.58},{"x":1200,"y":0.48},{"x":1200,"y":0.37},
      {"x":1400,"y":0.95},{"x":1500,"y":0.84},{"x":1600,"y":0.7},{"x":1700,"y":0.9},{"x":1800,"y":0.6},{"x":1900,"y":0.78},{"x":2000,"y":0.88},{"x":2100,"y":0.52},{"x":2200,"y":0.74},{"x":2300,"y":0.96},{"x":2400,"y":0.66},{"x":2500,"y":0.85},{"x":2600,"y":0.44},{"x":2700,"y":0.8},{"x":2800,"y":0.92},{"x":2900,"y":0.62},{"x":3000,"y":0.73},{"x":3100,"y":0.87},{"x":3200,"y":0.55},{"x":3300,"y":0.95},{"x":3400,"y":0.68},{"x":3500,"y":0.82},{"x":3600,"y":0.58},{"x":3700,"y":0.9},{"x":3800,"y":0.76},{"x":3900,"y":0.48},{"x":4000,"y":0.86},{"x":1500,"y":0.57},{"x":2000,"y":0.35},{"x":2600,"y":0.7},{"x":3200,"y":0.4},{"x":1800,"y":0.45},{"x":3600,"y":0.38},
      {"x":4200,"y":0.65},{"x":4400,"y":0.92},{"x":4600,"y":0.78},{"x":4800,"y":0.55},{"x":5000,"y":0.88},{"x":5200,"y":0.7},{"x":5400,"y":0.6},{"x":5600,"y":0.95},{"x":5800,"y":0.8},{"x":6000,"y":0.66},{"x":6200,"y":0.33},{"x":6400,"y":0.9},{"x":6600,"y":0.74},{"x":6800,"y":0.58},{"x":7000,"y":0.98},{"x":7200,"y":0.84},{"x":7400,"y":0.68},{"x":7600,"y":0.52},{"x":7800,"y":0.9},{"x":5000,"y":0.42},{"x":6000,"y":0.5},{"x":7000,"y":0.62},
      {"x":8400,"y":0.95},{"x":9000,"y":0.64},{"x":9600,"y":0.88},{"x":10400,"y":0.72},{"x":11000,"y":0.92},{"x":11600,"y":0.64},{"x":12400,"y":0.55},{"x":13400,"y":0.9},{"x":14000,"y":0.78},{"x":15200,"y":0.72},{"x":16400,"y":0.43},{"x":16800,"y":0.52},{"x":17200,"y":0.97},{"x":17500,"y":0.65},
      {"x":100,"y":0.95},{"x":100,"y":0.84},{"x":100,"y":0.71},{"x":100,"y":0.58},{"x":100,"y":0.49},{"x":100,"y":0.4},
      {"x":220,"y":0.91},{"x":220,"y":0.83},{"x":220,"y":0.73},{"x":220,"y":0.65},{"x":220,"y":0.5},{"x":220,"y":0.44},
      {"x":380,"y":0.96},{"x":380,"y":0.86},{"x":380,"y":0.74},{"x":380,"y":0.66},{"x":380,"y":0.56},{"x":380,"y":0.46},{"x":380,"y":0.39},
      {"x":520,"y":0.93},{"x":520,"y":0.8},{"x":520,"y":0.7},{"x":520,"y":0.59},{"x":520,"y":0.52},{"x":520,"y":0.43},
      {"x":700,"y":0.97},{"x":700,"y":0.85},{"x":700,"y":0.77},{"x":700,"y":0.64},{"x":700,"y":0.55},{"x":700,"y":0.48},
      {"x":900,"y":0.94},{"x":900,"y":0.86},{"x":900,"y":0.74},{"x":900,"y":0.67},{"x":900,"y":0.57},{"x":900,"y":0.45},
      {"x":1100,"y":0.98},{"x":1100,"y":0.85},{"x":1100,"y":0.75},{"x":1100,"y":0.61},{"x":1100,"y":0.51},{"x":1100,"y":0.42},
      {"x":1300,"y":0.9},{"x":1300,"y":0.82},{"x":1300,"y":0.69},{"x":1300,"y":0.6},{"x":1300,"y":0.53},
      {"x":1500,"y":0.96},{"x":1500,"y":0.78},{"x":1500,"y":0.64},{"x":1500,"y":0.5},
      {"x":1700,"y":0.97},{"x":1700,"y":0.84},{"x":1700,"y":0.68},{"x":1700,"y":0.55},
      {"x":2000,"y":0.94},{"x":2000,"y":0.8},{"x":2000,"y":0.66},{"x":2000,"y":0.58},
      {"x":2300,"y":0.88},{"x":2300,"y":0.71},{"x":2300,"y":0.6},
      {"x":2600,"y":0.95},{"x":2600,"y":0.82},{"x":2600,"y":0.56},
      {"x":2900,"y":0.98},{"x":2900,"y":0.78},{"x":2900,"y":0.5},
      {"x":3300,"y":0.86},{"x":3300,"y":0.72},{"x":3800,"y":0.92},{"x":3800,"y":0.64}
    ],
    "p6fit": [
      {"x":0,"y":0.829},{"x":100,"y":0.781},{"x":180,"y":0.762},{"x":744,"y":0.76},{"x":1420,"y":0.764},{"x":2100,"y":0.781},{"x":2775,"y":0.786},{"x":3450,"y":0.784},{"x":4130,"y":0.774},{"x":4800,"y":0.764},{"x":5480,"y":0.762},{"x":6157,"y":0.767},{"x":6834,"y":0.781},{"x":7510,"y":0.805},{"x":8187,"y":0.824},{"x":8864,"y":0.833},{"x":9540,"y":0.83},{"x":10217,"y":0.817},{"x":10894,"y":0.795},{"x":11570,"y":0.781},{"x":12247,"y":0.784},{"x":12924,"y":0.8},{"x":13600,"y":0.822},{"x":14050,"y":0.824},{"x":14500,"y":0.81},{"x":14950,"y":0.767},{"x":15400,"y":0.71},{"x":15850,"y":0.657},{"x":16300,"y":0.629},{"x":16750,"y":0.629},{"x":17100,"y":0.676},{"x":17450,"y":0.79},{"x":17680,"y":0.905},{"x":17860,"y":1.0},{"x":18020,"y":1.076}
    ],
    "p6bin": [
      {"x":1380,"y":0.77},{"x":4310,"y":0.779},{"x":7105,"y":0.776},{"x":9946,"y":0.827},{"x":12856,"y":0.798},{"x":15745,"y":0.652},{"x":18640,"y":0.792}
    ]
  },
  "concat": [
    {
      "width": 287, "height": 317,
      "title": {"text": ["Õige prognoosi hinnang", "sõltuvalt positsioonist"], "offset": 24},
      "layer": [
        {"data": {"name": "p1band"}, "mark": {"type": "area", "color": "#bebebe", "opacity": 1},
         "encoding": {
           "x": {"field": "x", "type": "quantitative", "scale": {"domain": [-2000000, 46200000], "nice": false, "zero": false},
                 "axis": {"title": "Füüsiline positsioon", "values": [0, 10000000, 20000000, 30000000, 40000000],
                          "labelExpr": "datum.value === 0 ? '0e+00' : datum.value === 20000000 ? '2e+07' : datum.value === 40000000 ? '4e+07' : ''"}},
           "y": {"field": "y", "type": "quantitative", "scale": {"domain": [0.6193, 1.0146], "nice": false, "zero": false},
                 "axis": {"title": "Tõenäosus", "values": [0.7, 0.8, 0.9, 1.0], "format": ".1f"}},
           "y2": {"datum": 1.003},
           "detail": {"field": "seg", "type": "nominal"}}},
        {"data": {"name": "p1pts"}, "mark": {"type": "tick", "orient": "vertical", "color": "#bebebe", "size": 5, "thickness": 1.5, "opacity": 1},
         "encoding": {"x": {"field": "x", "type": "quantitative", "scale": {"domain": [-2000000, 46200000], "nice": false, "zero": false}},
                      "y": {"field": "y", "type": "quantitative", "scale": {"domain": [0.6193, 1.0146], "nice": false, "zero": false}}}},
        {"data": {"values": [{}]}, "mark": {"type": "rule", "color": "black", "strokeWidth": 1},
         "encoding": {"y": {"datum": 0.698, "scale": {"domain": [0.6193, 1.0146], "nice": false, "zero": false}}}},
        {"data": {"name": "p1fit"}, "mark": {"type": "line", "strokeWidth": 3, "clip": true},
         "encoding": {"x": {"field": "x", "type": "quantitative", "scale": {"domain": [-2000000, 46200000], "nice": false, "zero": false}},
                      "y": {"field": "y", "type": "quantitative", "scale": {"domain": [0.6193, 1.0146], "nice": false, "zero": false}},
                      "color": {"datum": "Prognoositud andmete põhjal", "type": "nominal",
                                "scale": {"domain": ["Prognoositud andmete põhjal", "Andmete intervallide keskmise"], "range": ["#0000ff", "#ff0000"]},
                                "legend": {"title": null, "encode": {"symbols": {"update": {
                                  "shape": {"signal": "datum.value === 'Andmete intervallide keskmise' ? 'M-1,0H7.8M2.7,0.3L3.4,-1L4.1,0.3Z' : 'M-1,0H7.8'"},
                                  "stroke": {"signal": "datum.value === 'Andmete intervallide keskmise' ? '#ff0000' : '#0000ff'"},
                                  "fill": {"signal": "datum.value === 'Andmete intervallide keskmise' ? '#ff0000' : 'transparent'"},
                                  "strokeWidth": {"signal": "datum.value === 'Andmete intervallide keskmise' ? 1.3 : 3"},
                                  "strokeDash": {"signal": "datum.value === 'Andmete intervallide keskmise' ? [6,4] : [1,0]"},
                                  "opacity": {"value": 1}}}}}}}},
        {"data": {"name": "p1bin"}, "mark": {"type": "line", "strokeWidth": 1.3, "strokeDash": [6, 4], "clip": true},
         "encoding": {"x": {"field": "x", "type": "quantitative", "scale": {"domain": [-2000000, 46200000], "nice": false, "zero": false}},
                      "y": {"field": "y", "type": "quantitative", "scale": {"domain": [0.6193, 1.0146], "nice": false, "zero": false}},
                      "color": {"datum": "Andmete intervallide keskmise", "type": "nominal",
                                "scale": {"domain": ["Prognoositud andmete põhjal", "Andmete intervallide keskmise"], "range": ["#0000ff", "#ff0000"]}}}},
        {"data": {"name": "p1bin"}, "mark": {"type": "point", "shape": "triangle-up", "filled": true, "color": "#ff0000", "size": 55, "opacity": 1, "clip": true},
         "encoding": {"x": {"field": "x", "type": "quantitative", "scale": {"domain": [-2000000, 46200000], "nice": false, "zero": false}},
                      "y": {"field": "y", "type": "quantitative", "scale": {"domain": [0.6193, 1.0146], "nice": false, "zero": false}}}}
      ]
    },
    {
      "width": 287, "height": 317,
      "title": {"text": ["Õige prognoosi hinnang", "sõltuvalt", "MAF-ist"], "offset": 15},
      "layer": [
        {"data": {"name": "p2col"}, "mark": {"type": "rule", "color": "#bebebe", "strokeWidth": 1.6},
         "encoding": {
           "x": {"field": "x", "type": "quantitative", "scale": {"domain": [-0.02, 0.52], "nice": false, "zero": false},
                 "axis": {"title": "MAF", "values": [0, 0.1, 0.2, 0.3, 0.4, 0.5], "format": ".1f"}},
           "y": {"field": "y", "type": "quantitative", "scale": {"domain": [0.6193, 1.0146], "nice": false, "zero": false},
                 "axis": {"title": "Tõenäosus", "values": [0.7, 0.8, 0.9, 1.0], "format": ".1f"}},
           "y2": {"datum": 1.0}}},
        {"data": {"name": "p2pts"}, "mark": {"type": "tick", "orient": "vertical", "color": "#bebebe", "size": 5, "thickness": 1.5, "opacity": 1},
         "encoding": {"x": {"field": "x", "type": "quantitative", "scale": {"domain": [-0.02, 0.52], "nice": false, "zero": false}},
                      "y": {"field": "y", "type": "quantitative", "scale": {"domain": [0.6193, 1.0146], "nice": false, "zero": false}}}},
        {"data": {"values": [{}]}, "mark": {"type": "rule", "color": "black", "strokeWidth": 1},
         "encoding": {"y": {"datum": 0.698, "scale": {"domain": [0.6193, 1.0146], "nice": false, "zero": false}}}},
        {"data": {"name": "p2fit"}, "mark": {"type": "line", "strokeWidth": 3, "clip": true},
         "encoding": {"x": {"field": "x", "type": "quantitative", "scale": {"domain": [-0.02, 0.52], "nice": false, "zero": false}},
                      "y": {"field": "y", "type": "quantitative", "scale": {"domain": [0.6193, 1.0146], "nice": false, "zero": false}},
                      "color": {"datum": "Prognoositud andmete põhjal", "type": "nominal",
                                "scale": {"domain": ["Prognoositud andmete põhjal", "Andmete intervallide keskmise"], "range": ["#0000ff", "#ff0000"]},
                                "legend": {"title": null, "encode": {"symbols": {"update": {
                                  "shape": {"signal": "datum.value === 'Andmete intervallide keskmise' ? 'M-1,0H7.8M2.7,0.3L3.4,-1L4.1,0.3Z' : 'M-1,0H7.8'"},
                                  "stroke": {"signal": "datum.value === 'Andmete intervallide keskmise' ? '#ff0000' : '#0000ff'"},
                                  "fill": {"signal": "datum.value === 'Andmete intervallide keskmise' ? '#ff0000' : 'transparent'"},
                                  "strokeWidth": {"signal": "datum.value === 'Andmete intervallide keskmise' ? 1.3 : 3"},
                                  "strokeDash": {"signal": "datum.value === 'Andmete intervallide keskmise' ? [6,4] : [1,0]"},
                                  "opacity": {"value": 1}}}}}}}},
        {"data": {"name": "p2bin"}, "mark": {"type": "line", "strokeWidth": 1.3, "strokeDash": [6, 4], "clip": true},
         "encoding": {"x": {"field": "x", "type": "quantitative", "scale": {"domain": [-0.02, 0.52], "nice": false, "zero": false}},
                      "y": {"field": "y", "type": "quantitative", "scale": {"domain": [0.6193, 1.0146], "nice": false, "zero": false}},
                      "color": {"datum": "Andmete intervallide keskmise", "type": "nominal",
                                "scale": {"domain": ["Prognoositud andmete põhjal", "Andmete intervallide keskmise"], "range": ["#0000ff", "#ff0000"]}}}},
        {"data": {"name": "p2bin"}, "mark": {"type": "point", "shape": "triangle-up", "filled": true, "color": "#ff0000", "size": 55, "opacity": 1, "clip": true},
         "encoding": {"x": {"field": "x", "type": "quantitative", "scale": {"domain": [-0.02, 0.52], "nice": false, "zero": false}},
                      "y": {"field": "y", "type": "quantitative", "scale": {"domain": [0.6193, 1.0146], "nice": false, "zero": false}}}}
      ]
    },
    {
      "width": 287, "height": 317,
      "title": {"text": ["Prognoos andmete vahemiku pealt.", "Õige prognoosi hinnang sõltuvalt", "teadaoleva markeri kaugusest"], "offset": 15},
      "layer": [
        {"data": {"name": "p3band"}, "mark": {"type": "area", "color": "#bebebe", "opacity": 1},
         "encoding": {
           "x": {"field": "x", "type": "quantitative", "scale": {"domain": [-1600, 41600], "nice": false, "zero": false},
                 "axis": {"title": "Teadaoleva markeri kaugus", "values": [0, 10000, 20000, 30000, 40000], "format": "d"}},
           "y": {"field": "y", "type": "quantitative", "scale": {"domain": [0.6193, 1.0146], "nice": false, "zero": false},
                 "axis": {"title": "Tõenäosus", "values": [0.7, 0.8, 0.9, 1.0], "format": ".1f"}},
           "y2": {"datum": 1.0}}},
        {"data": {"name": "p3pts"}, "mark": {"type": "tick", "orient": "vertical", "color": "#bebebe", "size": 5, "thickness": 1.5, "opacity": 1},
         "encoding": {"x": {"field": "x", "type": "quantitative", "scale": {"domain": [-1600, 41600], "nice": false, "zero": false}},
                      "y": {"field": "y", "type": "quantitative", "scale": {"domain": [0.6193, 1.0146], "nice": false, "zero": false}}}},
        {"data": {"values": [{}]}, "mark": {"type": "rule", "color": "black", "strokeWidth": 1},
         "encoding": {"y": {"datum": 0.698, "scale": {"domain": [0.6193, 1.0146], "nice": false, "zero": false}}}},
        {"data": {"name": "p3fit"}, "mark": {"type": "line", "strokeWidth": 3, "clip": true},
         "encoding": {"x": {"field": "x", "type": "quantitative", "scale": {"domain": [-1600, 41600], "nice": false, "zero": false}},
                      "y": {"field": "y", "type": "quantitative", "scale": {"domain": [0.6193, 1.0146], "nice": false, "zero": false}},
                      "color": {"datum": "Prognoositud andmete põhjal", "type": "nominal",
                                "scale": {"domain": ["Prognoositud andmete põhjal", "Andmete intervallide keskmise"], "range": ["#0000ff", "#ff0000"]},
                                "legend": {"title": null, "encode": {"symbols": {"update": {
                                  "shape": {"signal": "datum.value === 'Andmete intervallide keskmise' ? 'M-1,0H7.8M2.7,0.3L3.4,-1L4.1,0.3Z' : 'M-1,0H7.8'"},
                                  "stroke": {"signal": "datum.value === 'Andmete intervallide keskmise' ? '#ff0000' : '#0000ff'"},
                                  "fill": {"signal": "datum.value === 'Andmete intervallide keskmise' ? '#ff0000' : 'transparent'"},
                                  "strokeWidth": {"signal": "datum.value === 'Andmete intervallide keskmise' ? 1.3 : 3"},
                                  "strokeDash": {"signal": "datum.value === 'Andmete intervallide keskmise' ? [6,4] : [1,0]"},
                                  "opacity": {"value": 1}}}}}}}},
        {"data": {"name": "p3bin"}, "mark": {"type": "line", "strokeWidth": 1.3, "strokeDash": [6, 4], "clip": true},
         "encoding": {"x": {"field": "x", "type": "quantitative", "scale": {"domain": [-1600, 41600], "nice": false, "zero": false}},
                      "y": {"field": "y", "type": "quantitative", "scale": {"domain": [0.6193, 1.0146], "nice": false, "zero": false}},
                      "color": {"datum": "Andmete intervallide keskmise", "type": "nominal",
                                "scale": {"domain": ["Prognoositud andmete põhjal", "Andmete intervallide keskmise"], "range": ["#0000ff", "#ff0000"]}}}},
        {"data": {"name": "p3bin"}, "mark": {"type": "point", "shape": "triangle-up", "filled": true, "color": "#ff0000", "size": 55, "opacity": 1, "clip": true},
         "encoding": {"x": {"field": "x", "type": "quantitative", "scale": {"domain": [-1600, 41600], "nice": false, "zero": false}},
                      "y": {"field": "y", "type": "quantitative", "scale": {"domain": [0.6193, 1.0146], "nice": false, "zero": false}}}}
      ]
    },
    {
      "width": 287, "height": 317,
      "title": {"text": ["AUC statistiku väärtus", "sõltuvalt positsioonist"], "offset": 24},
      "layer": [
        {"data": {"name": "p4pts"}, "mark": {"type": "tick", "orient": "vertical", "color": "#bebebe", "size": 5, "thickness": 1.5, "opacity": 1},
         "encoding": {
           "x": {"field": "x", "type": "quantitative", "scale": {"domain": [-2000000, 46200000], "nice": false, "zero": false},
                 "axis": {"title": "Füüsiline positsioon", "values": [0, 10000000, 20000000, 30000000, 40000000],
                          "labelExpr": "datum.value === 0 ? '0e+00' : datum.value === 20000000 ? '2e+07' : datum.value === 40000000 ? '4e+07' : ''"}},
           "y": {"field": "y", "type": "quantitative", "scale": {"domain": [0.1078, 1.031], "nice": false, "zero": false},
                 "axis": {"title": "AUC", "values": [0.2, 0.4, 0.6, 0.8, 1.0], "format": ".1f"}}}},
        {"data": {"values": [{}]}, "mark": {"type": "rule", "color": "black", "strokeWidth": 1},
         "encoding": {"y": {"datum": 0.2969, "scale": {"domain": [0.1078, 1.031], "nice": false, "zero": false}}}},
        {"data": {"name": "p4fit"}, "mark": {"type": "line", "strokeWidth": 3.5, "interpolate": "monotone", "clip": true},
         "encoding": {"x": {"field": "x", "type": "quantitative", "scale": {"domain": [-2000000, 46200000], "nice": false, "zero": false}},
                      "y": {"field": "y", "type": "quantitative", "scale": {"domain": [0.1078, 1.031], "nice": false, "zero": false}},
                      "color": {"datum": "Prognoositud andmete põhjal", "type": "nominal",
                                "scale": {"domain": ["Prognoositud andmete põhjal", "Andmete intervallide keskmise"], "range": ["#00cd00", "#ff0000"]},
                                "legend": {"title": null, "encode": {"symbols": {"update": {
                                  "shape": {"signal": "datum.value === 'Andmete intervallide keskmise' ? 'M-1,0H7.8M2.7,0.3L3.4,-1L4.1,0.3Z' : 'M-1,0H7.8'"},
                                  "stroke": {"signal": "datum.value === 'Andmete intervallide keskmise' ? '#ff0000' : '#00cd00'"},
                                  "fill": {"signal": "datum.value === 'Andmete intervallide keskmise' ? '#ff0000' : 'transparent'"},
                                  "strokeWidth": {"signal": "datum.value === 'Andmete intervallide keskmise' ? 1.3 : 3.5"},
                                  "strokeDash": {"signal": "datum.value === 'Andmete intervallide keskmise' ? [6,4] : [1,0]"},
                                  "opacity": {"value": 1}}}}}}}},
        {"data": {"name": "p4bin"}, "mark": {"type": "line", "strokeWidth": 1.3, "strokeDash": [6, 4], "clip": true},
         "encoding": {"x": {"field": "x", "type": "quantitative", "scale": {"domain": [-2000000, 46200000], "nice": false, "zero": false}},
                      "y": {"field": "y", "type": "quantitative", "scale": {"domain": [0.1078, 1.031], "nice": false, "zero": false}},
                      "color": {"datum": "Andmete intervallide keskmise", "type": "nominal",
                                "scale": {"domain": ["Prognoositud andmete põhjal", "Andmete intervallide keskmise"], "range": ["#00cd00", "#ff0000"]}}}},
        {"data": {"name": "p4bin"}, "mark": {"type": "point", "shape": "triangle-up", "filled": true, "color": "#ff0000", "size": 55, "opacity": 1, "clip": true},
         "encoding": {"x": {"field": "x", "type": "quantitative", "scale": {"domain": [-2000000, 46200000], "nice": false, "zero": false}},
                      "y": {"field": "y", "type": "quantitative", "scale": {"domain": [0.1078, 1.031], "nice": false, "zero": false}}}}
      ]
    },
    {
      "width": 287, "height": 317,
      "title": {"text": ["AUC statistiku väärtus sõltuvalt", "MAF-ist"], "offset": 24},
      "layer": [
        {"data": {"name": "p5col"}, "mark": {"type": "rule", "color": "#bebebe", "strokeWidth": 1.5, "strokeDash": [5, 3]},
         "encoding": {
           "x": {"field": "x", "type": "quantitative", "scale": {"domain": [-0.02, 0.52], "nice": false, "zero": false},
                 "axis": {"title": "MAF", "values": [0, 0.1, 0.2, 0.3, 0.4, 0.5], "format": ".1f"}},
           "y": {"field": "mid", "type": "quantitative", "scale": {"domain": [0.1078, 1.031], "nice": false, "zero": false},
                 "axis": {"title": "AUC", "values": [0.2, 0.4, 0.6, 0.8, 1.0], "format": ".1f"}},
           "y2": {"datum": 1.0}}},
        {"data": {"name": "p5col"}, "mark": {"type": "rule", "color": "#bebebe", "strokeWidth": 1.5, "strokeDash": [2, 8]},
         "encoding": {"x": {"field": "x", "type": "quantitative", "scale": {"domain": [-0.02, 0.52], "nice": false, "zero": false}},
                      "y": {"field": "lo", "type": "quantitative", "scale": {"domain": [0.1078, 1.031], "nice": false, "zero": false}},
                      "y2": {"field": "mid"}}},
        {"data": {"values": [{}]}, "mark": {"type": "rule", "color": "black", "strokeWidth": 1},
         "encoding": {"y": {"datum": 0.2969, "scale": {"domain": [0.1078, 1.031], "nice": false, "zero": false}}}},
        {"data": {"name": "p5fit"}, "mark": {"type": "line", "strokeWidth": 3.5, "interpolate": "monotone", "clip": true},
         "encoding": {"x": {"field": "x", "type": "quantitative", "scale": {"domain": [-0.02, 0.52], "nice": false, "zero": false}},
                      "y": {"field": "y", "type": "quantitative", "scale": {"domain": [0.1078, 1.031], "nice": false, "zero": false}},
                      "color": {"datum": "Prognoositud andmete põhjal", "type": "nominal",
                                "scale": {"domain": ["Prognoositud andmete põhjal", "Andmete intervallide keskmise"], "range": ["#00cd00", "#ff0000"]},
                                "legend": {"title": null, "encode": {"symbols": {"update": {
                                  "shape": {"signal": "datum.value === 'Andmete intervallide keskmise' ? 'M-1,0H7.8M2.7,0.3L3.4,-1L4.1,0.3Z' : 'M-1,0H7.8'"},
                                  "stroke": {"signal": "datum.value === 'Andmete intervallide keskmise' ? '#ff0000' : '#00cd00'"},
                                  "fill": {"signal": "datum.value === 'Andmete intervallide keskmise' ? '#ff0000' : 'transparent'"},
                                  "strokeWidth": {"signal": "datum.value === 'Andmete intervallide keskmise' ? 1.3 : 3.5"},
                                  "strokeDash": {"signal": "datum.value === 'Andmete intervallide keskmise' ? [6,4] : [1,0]"},
                                  "opacity": {"value": 1}}}}}}}},
        {"data": {"name": "p5bin"}, "mark": {"type": "line", "strokeWidth": 1.3, "strokeDash": [6, 4], "clip": true},
         "encoding": {"x": {"field": "x", "type": "quantitative", "scale": {"domain": [-0.02, 0.52], "nice": false, "zero": false}},
                      "y": {"field": "y", "type": "quantitative", "scale": {"domain": [0.1078, 1.031], "nice": false, "zero": false}},
                      "color": {"datum": "Andmete intervallide keskmise", "type": "nominal",
                                "scale": {"domain": ["Prognoositud andmete põhjal", "Andmete intervallide keskmise"], "range": ["#00cd00", "#ff0000"]}}}},
        {"data": {"name": "p5bin"}, "mark": {"type": "point", "shape": "triangle-up", "filled": true, "color": "#ff0000", "size": 55, "opacity": 1, "clip": true},
         "encoding": {"x": {"field": "x", "type": "quantitative", "scale": {"domain": [-0.02, 0.52], "nice": false, "zero": false}},
                      "y": {"field": "y", "type": "quantitative", "scale": {"domain": [0.1078, 1.031], "nice": false, "zero": false}}}}
      ]
    },
    {
      "width": 287, "height": 317,
      "title": {"text": ["Prognoos andmete vahemiku pealt.", "AUC statistiku väärtus sõltuvalt", "teadaoleva markeri kaugusest"], "offset": 15},
      "layer": [
        {"data": {"name": "p6pts"}, "mark": {"type": "tick", "orient": "vertical", "color": "#bebebe", "size": 5, "thickness": 1.5, "opacity": 1, "clip": true},
         "encoding": {
           "x": {"field": "x", "type": "quantitative", "scale": {"domain": [-765, 18590], "nice": false, "zero": false},
                 "axis": {"title": "Teadaoleva markeri kaugus", "values": [0, 5000, 10000, 15000], "format": "d"}},
           "y": {"field": "y", "type": "quantitative", "scale": {"domain": [0.1237, 1.0305], "nice": false, "zero": false},
                 "axis": {"title": "AUC", "values": [0.2, 0.4, 0.6, 0.8, 1.0], "format": ".1f"}}}},
        {"data": {"values": [{}]}, "mark": {"type": "rule", "color": "black", "strokeWidth": 1},
         "encoding": {"y": {"datum": 0.3094, "scale": {"domain": [0.1237, 1.0305], "nice": false, "zero": false}}}},
        {"data": {"name": "p6fit"}, "mark": {"type": "line", "strokeWidth": 3.5, "interpolate": "monotone", "clip": true},
         "encoding": {"x": {"field": "x", "type": "quantitative", "scale": {"domain": [-765, 18590], "nice": false, "zero": false}},
                      "y": {"field": "y", "type": "quantitative", "scale": {"domain": [0.1237, 1.0305], "nice": false, "zero": false}},
                      "color": {"datum": "Prognoositud andmete põhjal", "type": "nominal",
                                "scale": {"domain": ["Prognoositud andmete põhjal", "Andmete intervallide keskmise"], "range": ["#00cd00", "#ff0000"]},
                                "legend": {"title": null, "encode": {"symbols": {"update": {
                                  "shape": {"signal": "datum.value === 'Andmete intervallide keskmise' ? 'M-1,0H7.8M2.7,0.3L3.4,-1L4.1,0.3Z' : 'M-1,0H7.8'"},
                                  "stroke": {"signal": "datum.value === 'Andmete intervallide keskmise' ? '#ff0000' : '#00cd00'"},
                                  "fill": {"signal": "datum.value === 'Andmete intervallide keskmise' ? '#ff0000' : 'transparent'"},
                                  "strokeWidth": {"signal": "datum.value === 'Andmete intervallide keskmise' ? 1.3 : 3.5"},
                                  "strokeDash": {"signal": "datum.value === 'Andmete intervallide keskmise' ? [6,4] : [1,0]"},
                                  "opacity": {"value": 1}}}}}}}},
        {"data": {"name": "p6bin"}, "mark": {"type": "line", "strokeWidth": 1.3, "strokeDash": [6, 4], "clip": true},
         "encoding": {"x": {"field": "x", "type": "quantitative", "scale": {"domain": [-765, 18590], "nice": false, "zero": false}},
                      "y": {"field": "y", "type": "quantitative", "scale": {"domain": [0.1237, 1.0305], "nice": false, "zero": false}},
                      "color": {"datum": "Andmete intervallide keskmise", "type": "nominal",
                                "scale": {"domain": ["Prognoositud andmete põhjal", "Andmete intervallide keskmise"], "range": ["#00cd00", "#ff0000"]}}}},
        {"data": {"name": "p6bin"}, "mark": {"type": "point", "shape": "triangle-up", "filled": true, "color": "#ff0000", "size": 55, "opacity": 1, "clip": true},
         "encoding": {"x": {"field": "x", "type": "quantitative", "scale": {"domain": [-765, 18590], "nice": false, "zero": false}},
                      "y": {"field": "y", "type": "quantitative", "scale": {"domain": [0.1237, 1.0305], "nice": false, "zero": false}}}}
      ]
    }
  ]
}
